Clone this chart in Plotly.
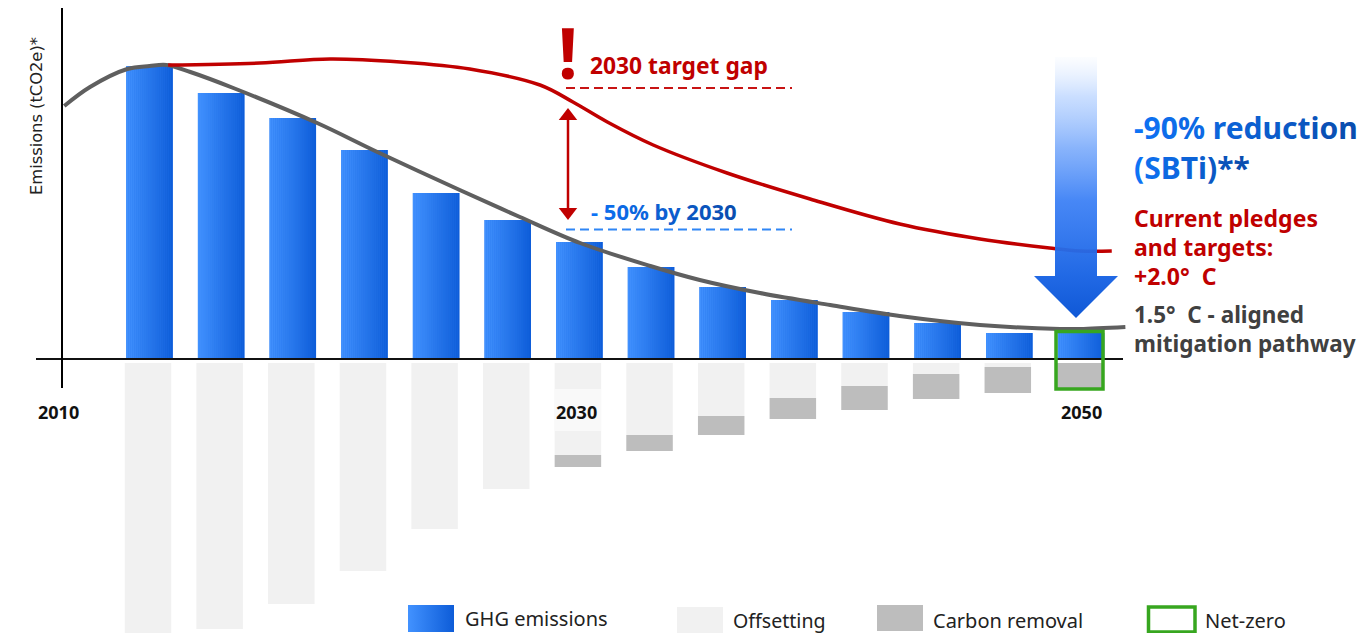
import numpy as np
import plotly.graph_objects as go

# ---- data (chart units: index of period, emissions index) ----
periods = list(range(14))
ghg = [293, 266, 241, 209, 166, 139, 117, 92, 72, 59, 47, 36, 26, 26]
offsetting = [270, 266, 241, 208, 166, 126, 92, 72, 53, 35, 23, 11, 4, 0]
removal = [0, 0, 0, 0, 0, 0, 12, 16, 19, 21, 24, 25, 26, 26]
gray_x = [-1.19, -0.83, -0.31, 0, 0.24, 0.57, 1.17, 2.34, 3.18, 4.33, 5.17, 6.01, 6.99, 7.68, 8.52, 9.50, 10.47, 11.59, 12.71, 12.99, 13.62]
gray_y = [253, 272, 290, 293, 294, 287, 271, 236, 207, 169, 142, 116, 93, 79, 66, 54, 43, 34, 30, 30, 32]
red_x = [0.26, 1.54, 2.52, 3.50, 4.47, 5.45, 5.91, 6.39, 7.03, 8.06, 9.22, 10.47, 11.59, 12.56, 12.99, 13.43]
red_y = [294, 296, 300, 297, 290, 274, 257, 237, 214, 186, 160, 135, 120, 111, 108, 108]
tick_years = ["2010", "2030", "2050"]
legend_names = ["GHG emissions", "Offsetting", "Carbon removal", "Net-zero"]

W, H = 1363, 633
X0, DX, Y0 = 149.5, 71.65, 359.0
FONT = "Noto Sans"
def X(px): return (px - X0) / DX
def Y(py): return Y0 - py

BAR_W = 46.5 / DX
LOW_SHIFT = -1.5 / DX
GAP = -4

def lerp(c1, c2, t):
    return "rgb(%d,%d,%d)" % tuple(round(a + (b - a) * t) for a, b in zip(c1, c2))

LEFT, RIGHT = (66, 146, 255), (13, 92, 216)
fig = go.Figure()

# lower stacks
off = np.array(offsetting)
rem = np.array(removal)
fig.add_bar(x=periods, y=-off, base=GAP, width=BAR_W, offset=-BAR_W / 2 + LOW_SHIFT, marker=dict(color="#f1f1f1", line_width=0), name="Offsetting")
fig.add_bar(x=periods, y=-rem, base=GAP - off, width=BAR_W, offset=-BAR_W / 2 + LOW_SHIFT, marker=dict(color="#bdbdbd", line_width=0), name="Carbon removal")

# GHG bars: base colour and horizontal gradient slices
fig.add_bar(x=periods, y=ghg, width=BAR_W, marker=dict(color=lerp(LEFT, RIGHT, .5), line_width=0), name="GHG emissions")
N = 23
for k in range(N):
    fig.add_bar(x=periods, y=ghg, width=BAR_W / N, offset=-BAR_W / 2 + k * BAR_W / N,
                marker=dict(color=lerp(LEFT, RIGHT, (k + .5) / N), line_width=0), hoverinfo="skip")

# curves
fig.add_scatter(x=gray_x, y=gray_y, mode="lines", line=dict(color="#5f5f5f", width=4, shape="spline", smoothing=1), name="1.5 C pathway")
fig.add_scatter(x=red_x, y=red_y, mode="lines", line=dict(color="#c00000", width=3.5, shape="spline", smoothing=1), name="Current pledges")

# gap arrow
fig.add_scatter(x=[X(568), X(568)], y=[Y(116), Y(212)], mode="lines+markers",
                line=dict(color="#c00000", width=2.5),
                marker=dict(symbol=["triangle-up", "triangle-down"], size=16, color="#c00000"), hoverinfo="skip")

# big reduction arrow
ax = [1055, 1097, 1097, 1118, 1076, 1034, 1055, 1055]
ay = [57, 57, 276, 276, 318, 276, 276, 57]
fig.add_scatter(x=[X(v) for v in ax], y=[Y(v) for v in ay], mode="lines", line=dict(width=0), fill="toself",
                fillgradient=dict(type="vertical", colorscale=[
                    [0, "rgba(15,88,214,1)"], [0.16, "rgba(26,100,228,0.97)"], [0.45, "rgba(55,125,245,0.92)"],
                    [0.65, "rgba(90,150,250,0.72)"], [0.85, "rgba(150,190,255,0.5)"], [1, "rgba(190,215,255,0.05)"]]),
                hoverinfo="skip")
# halftone dots over the arrow shaft
fig.add_bar(x=[X(1076)], y=[219], base=[Y(276)], width=42 / DX,
            marker=dict(color="rgba(0,0,0,0)", line_width=0,
                        pattern=dict(shape=".", size=4, solidity=0.3, fgcolor="rgba(255,255,255,0.8)", bgcolor="rgba(0,0,0,0)")),
            hoverinfo="skip")

# legend gradient swatch
fig.add_scatter(x=[X(408), X(454), X(454), X(408), X(408)], y=[Y(605), Y(605), Y(632), Y(632), Y(605)], mode="lines", line=dict(width=0), fill="toself",
                fillgradient=dict(type="horizontal", colorscale=[[0, "rgb(66,146,255)"], [1, "rgb(13,92,216)"]]), hoverinfo="skip")

def line(x0, y0, x1, y1, color, width, dash="solid"):
    return dict(type="line", xref="x", yref="y", x0=X(x0), x1=X(x1), y0=Y(y0), y1=Y(y1), line=dict(color=color, width=width, dash=dash))
def rect(x0, y0, x1, y1, fill="rgba(0,0,0,0)", lc="rgba(0,0,0,0)", lw=0):
    return dict(type="rect", xref="x", yref="y", x0=X(x0), x1=X(x1), y0=Y(y0), y1=Y(y1), fillcolor=fill, line=dict(color=lc, width=lw))

shapes = [
    line(36, 359, 1123, 359, "#111111", 2),
    line(62, 8, 62, 388, "#000000", 2),
    line(566, 88, 792, 88, "#c81414", 2, "9px,5px"),
    line(566, 229.5, 792, 229.5, "#2f86f5", 2, "9px,5px"),
    rect(1056, 331.5, 1103, 389, lc="#37a61f", lw=3.5),
    rect(677, 607, 723, 633, fill="#f1f1f1"),
    rect(877, 605, 923, 631, fill="#bdbdbd"),
    rect(1148.5, 607, 1195, 632, lc="#37a61f", lw=3.5),
]

def label(px, cy, text, size, color, anchor="left", bold=True, family=FONT, **kw):
    t = "<b>%s</b>" % text if bold else text
    return dict(x=X(px), y=Y(cy), xref="x", yref="y", text=t, showarrow=False, xanchor=anchor, yanchor="middle",
                font=dict(family=family, size=size, color=color), **kw)

def grad_text(text, c1, c2):
    n = max(len(text) - 1, 1)
    return "".join('<span style="color:%s">%s</span>' % (lerp(c1, c2, i / n), ch) for i, ch in enumerate(text))

B1, B2 = (13, 115, 245), (10, 78, 176)
BLUE = "rgb(13,115,245)"
RED, GREY = "#c00000", "#404040"
ann = [
    label(36, 116, "Emissions (tCO2e)*", 16.3, "#222222", "center", False, "DejaVu Sans", textangle=-90),
    label(58, 412, tick_years[0], 18, "#111111", "center"),
    label(576, 412, tick_years[1], 18, "#111111", "center"),
    label(1081, 412, tick_years[2], 18, "#111111", "center"),
    label(568, 52, "!", 70, RED, "center"),
    label(588, 65, "2030 target gap", 22.8, RED),
    label(589, 211, grad_text("- 50% by 2030", B1, B2), 22, BLUE),
    label(1132, 127, grad_text("-90% reduction", B1, B2), 30, BLUE),
    label(1132, 167, grad_text("(SBTi)**", B1, B2), 30, BLUE),
    label(1132, 218, "Current pledges", 23, RED),
    label(1132, 247, "and targets:", 23, RED),
    label(1132, 276, "+2.0\u00b0  C", 23, RED),
    label(1132, 314, "1.5\u00b0  C - aligned", 22.5, GREY),
    label(1132, 343, "mitigation pathway", 22.5, GREY),
    label(463, 618, legend_names[0], 20, "#222222", bold=False),
    label(731, 620, legend_names[1], 19.6, "#222222", bold=False),
    label(931, 620, legend_names[2], 20, "#222222", bold=False),
    label(1203, 620, legend_names[3], 20, "#222222", bold=False),
]
# translucent plate behind the 2030 label
shapes.append(rect(555, 389, 601, 431, fill="rgba(255,255,255,0.6)"))

fig.update_layout(
    width=W, height=H, autosize=False, margin=dict(l=0, r=0, t=0, b=0, pad=0),
    paper_bgcolor="white", plot_bgcolor="white", showlegend=False, barmode="overlay",
    xaxis=dict(range=[X(0), X(W)], visible=False, fixedrange=True),
    yaxis=dict(range=[Y(H), Y(0)], visible=False, fixedrange=True),
    shapes=shapes, annotations=ann,
)
fig.write_html("out.html", config={"displayModeBar": False},
               post_script="document.body.style.margin='0';document.body.style.overflow='hidden';")
